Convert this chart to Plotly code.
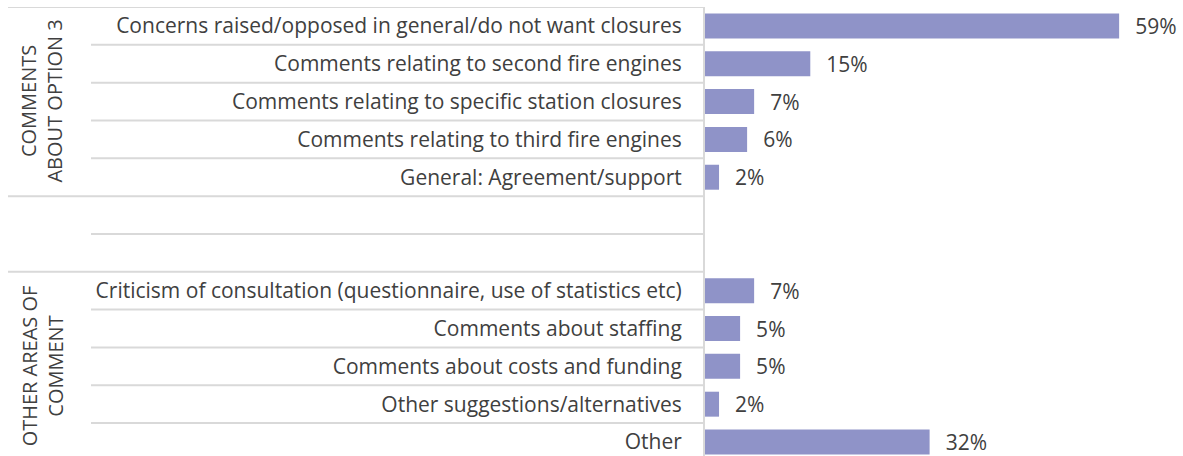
import plotly.graph_objects as go

# Survey comment themes, grouped into two sections
group_names = ["COMMENTS<br>ABOUT OPTION 3", "OTHER AREAS OF<br>COMMENT"]

option3_labels = [
    "Concerns raised/opposed in general/do not want closures",
    "Comments relating to second fire engines",
    "Comments relating to specific station closures",
    "Comments relating to third fire engines",
    "General: Agreement/support",
]
option3_values = [59, 15, 7, 6, 2]

other_labels = [
    "Criticism of consultation (questionnaire, use of statistics etc)",
    "Comments about staffing",
    "Comments about costs and funding",
    "Other suggestions/alternatives",
    "Other",
]
other_values = [7, 5, 5, 2, 32]

# two blank rows separate the sections
spacer_labels = ["", ""]
spacer_values = [None, None]

row_labels = option3_labels + spacer_labels + other_labels
row_values = option3_values + spacer_values + other_values
row_pos = list(range(len(row_labels)))

TEXT = "#404040"
GRID = "#d9d9d9"
BAR = "#8f93c8"
FONT = "Open Sans"

fig = go.Figure(
    go.Bar(
        x=row_values,
        y=row_pos,
        orientation="h",
        marker=dict(color=BAR, line=dict(width=0)),
        text=[None if v is None else f"\u00a0\u00a0\u200a{v}%" for v in row_values],
        textposition="outside",
        constraintext="none",
        textfont=dict(family=FONT, size=21, color=TEXT),
        cliponaxis=False,
        hoverinfo="skip",
    )
)

n = len(row_labels)
g1_end = len(option3_labels) - 1
g2_start = len(option3_labels) + len(spacer_labels)

shapes = []
# boundaries between rows: full-width at section edges, shorter elsewhere
full_edges = {-0.5, g1_end + 0.5, g2_start - 0.5}
for k in range(-1, n - 1):
    edge = k + 0.5
    x0 = -697 if edge in full_edges else -614
    shapes.append(dict(
        type="line", xref="paper", xsizemode="pixel", xanchor=0,
        x0=x0, x1=0, yref="y", y0=edge, y1=edge,
        line=dict(color=GRID, width=2),
    ))

group_centres = [(0 + g1_end) / 2, (g2_start + n - 1) / 2]
annotations = [
    dict(text=name, xref="paper", x=0, xshift=-663, xanchor="center",
         yref="y", y=yc, yanchor="middle", textangle=-90,
         showarrow=False, font=dict(family=FONT, size=20, color=TEXT),
         align="center")
    for name, yc in zip(group_names, group_centres)
]

fig.update_layout(
    width=1183, height=456,
    margin=dict(l=705, r=0, t=7, b=0),
    paper_bgcolor="white", plot_bgcolor="white",
    showlegend=False,
    bargap=0.34,
    shapes=shapes,
    annotations=annotations,
    xaxis=dict(range=[0, 68.1], showgrid=False, zeroline=False,
               showticklabels=False, showline=False, fixedrange=True),
    yaxis=dict(range=[11.37, -0.5], tickvals=row_pos, ticktext=row_labels,
               showgrid=False, zeroline=False, ticks="",
               showline=True, linecolor=GRID, linewidth=2,
               ticklabelstandoff=17,
               tickfont=dict(family=FONT, size=21, color=TEXT),
               fixedrange=True),
)

fig.write_html("out.html")
